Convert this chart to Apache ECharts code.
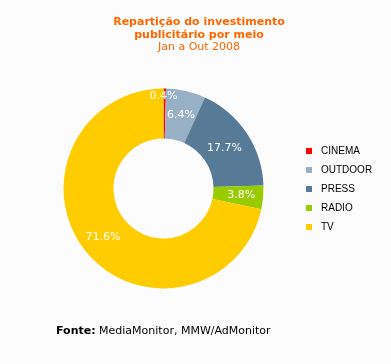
<!DOCTYPE html>
<html>
<head>
<meta charset="utf-8">
<script src="https://cdn.jsdelivr.net/npm/echarts@6/dist/echarts.min.js"></script>
<style>
html,body{margin:0;padding:0;background:#fcfcfc;}
#c{width:391px;height:364px;}
</style>
</head>
<body>
<div id="c"></div>
<script>
var categories = ['CINEMA', 'OUTDOOR', 'PRESS', 'RADIO', 'TV'];
var shares = [0.4, 6.4, 17.7, 3.8, 71.6];
var colors = ['#ff0000', '#98b0c6', '#577a96', '#99cc00', '#ffcc00'];
var titleLines = ['Repartição do investimento', 'publicitário por meio'];
var subtitle = 'Jan a Out 2008';
var sourceLabel = 'Fonte:';
var sourceText = 'MediaMonitor, MMW/AdMonitor';

var chart = echarts.init(document.getElementById('c'), null, {renderer: 'canvas'});
var data = categories.map(function (c, i) {
  return {name: c, value: shares[i], itemStyle: {color: colors[i]}};
});
chart.setOption({
  backgroundColor: '#fcfcfc',
  animation: false,
  graphic: [
    {type: 'text', x: 199, y: 17, style: {text: titleLines[0], fill: '#ff6600', font: 'bold 11px "DejaVu Sans"', textAlign: 'center'}},
    {type: 'text', x: 199, y: 30, style: {text: titleLines[1], fill: '#ff6600', font: 'bold 11px "DejaVu Sans"', textAlign: 'center'}},
    {type: 'text', x: 199, y: 42, style: {text: subtitle, fill: '#ff6600', font: '11px "DejaVu Sans"', textAlign: 'center'}},
    {type: 'text', x: 56, y: 326, style: {
      text: '{b|' + sourceLabel + '} ' + sourceText,
      fill: '#000', font: '11px "DejaVu Sans"',
      rich: {b: {fontWeight: 'bold', fontSize: 11, fontFamily: 'DejaVu Sans', fill: '#000'}}
    }}
  ],
  legend: {
    orient: 'vertical',
    left: 301,
    top: 140,
    icon: 'rect',
    itemWidth: 6,
    itemHeight: 6,
    itemGap: 7,
    selectedMode: false,
    data: categories,
    textStyle: {fontFamily: 'Liberation Sans', fontSize: 10, color: '#000', lineHeight: 12, padding: [0, 0, 0, 4]}
  },
  series: [{
    type: 'pie',
    center: [163.5, 188.5],
    radius: [50, 100],
    startAngle: 90,
    clockwise: true,
    avoidLabelOverlap: false,
    silent: true,
    label: {
      show: true,
      position: 'inside',
      color: '#fff',
      fontFamily: 'DejaVu Sans',
      fontSize: 11,
      textBorderWidth: 0,
      textShadowBlur: 0,
      formatter: function (p) { return p.value + '%'; }
    },
    labelLine: {show: false},
    labelLayout: function (p) {
      if (p.dataIndex === 0) return {dx: -1, dy: -14};
      if (p.dataIndex === 2) return {dx: -4, dy: 3};
      if (p.dataIndex === 1) return {dx: 0, dy: 3};
      return {};
    },
    data: data
  }]
});
</script>
</body>
</html>
